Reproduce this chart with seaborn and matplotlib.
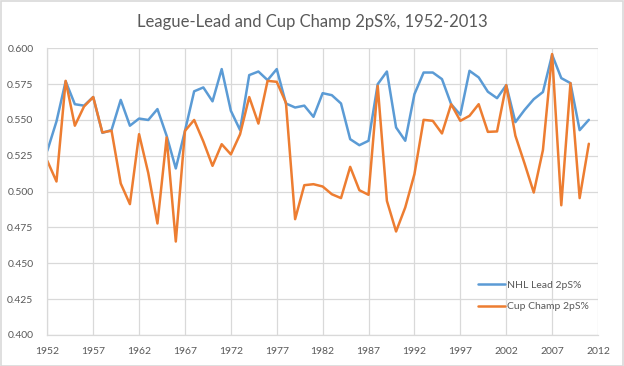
import matplotlib
matplotlib.use("Agg")
import matplotlib.pyplot as plt
import seaborn as sns
import pandas as pd
import numpy as np

years = list(range(1952, 2012))
nhl_lead = [0.5285, 0.549, 0.577, 0.561, 0.560, 0.566, 0.541, 0.543, 0.564, 0.546,
            0.551, 0.550, 0.5576, 0.539, 0.5162, 0.5424, 0.570, 0.5727, 0.563, 0.5855,
            0.5564, 0.543, 0.5813, 0.5838, 0.5778, 0.5855, 0.5615, 0.5587, 0.560, 0.5522,
            0.5687, 0.5673, 0.5615, 0.5366, 0.5324, 0.5355, 0.575, 0.5838, 0.5448, 0.5355,
            0.568, 0.5831, 0.5831, 0.5785, 0.561, 0.5536, 0.5843, 0.5797, 0.5697, 0.5652,
            0.5743, 0.5485, 0.557, 0.5645, 0.5695, 0.5955, 0.5792, 0.5757, 0.5429, 0.5501]
cup_champ = [0.5215, 0.5071, 0.5773, 0.546, 0.5594, 0.566, 0.5413, 0.5425, 0.5057, 0.4913,
             0.5401, 0.513, 0.4778, 0.5378, 0.4652, 0.5424, 0.550, 0.535, 0.518, 0.5331,
             0.526, 0.540, 0.566, 0.5475, 0.5773, 0.5766, 0.562, 0.4808, 0.5045, 0.5052,
             0.5036, 0.4982, 0.4955, 0.5173, 0.501, 0.4978, 0.5738, 0.4936, 0.4722, 0.489,
             0.5122, 0.5501, 0.5494, 0.5406, 0.561, 0.5494, 0.5529, 0.561, 0.5417, 0.542,
             0.5743, 0.539, 0.5196, 0.4994, 0.529, 0.596, 0.4905, 0.5757, 0.4955, 0.5334]
series_names = ["NHL Lead 2pS%", "Cup Champ 2pS%"]
x_ticks = list(range(1952, 2013, 5))
y_ticks = [0.400, 0.425, 0.450, 0.475, 0.500, 0.525, 0.550, 0.575, 0.600]
title = "League-Lead and Cup Champ 2pS%, 1952-2013"

df = pd.DataFrame({
    "Year": years * 2,
    "Value": nhl_lead + cup_champ,
    "Series": [series_names[0]] * len(years) + [series_names[1]] * len(years),
})

sns.set_theme(style="white")
plt.rcParams["font.family"] = ["Lato", "DejaVu Sans"]

txt = "#595959"
grid = "#D9D9D9"

fig = plt.figure(figsize=(6.24, 3.66), dpi=100)
fig.patch.set_facecolor("white")
ax = fig.add_axes([47.3 / 624, 1 - 335 / 366, (598 - 47.3) / 624, (335 - 48.3) / 366])

sns.lineplot(data=df, x="Year", y="Value", hue="Series",
             palette=["#5B9BD5", "#ED7D31"], linewidth=1.8, ax=ax, legend=True)

ax.set_xlim(1952, 2012)
ax.set_ylim(0.4, 0.6)
ax.set_xticks(x_ticks)
ax.set_yticks(y_ticks)
ax.set_yticklabels([f"{v:.3f}" for v in y_ticks])
ax.set_xlabel("")
ax.set_ylabel("")
ax.grid(True, color=grid, linewidth=0.9)
ax.set_axisbelow(True)
for s in ["top", "right"]:
    ax.spines[s].set_visible(False)
for s in ["left", "bottom"]:
    ax.spines[s].set_color(grid)
    ax.spines[s].set_linewidth(0.9)
ax.tick_params(axis="both", length=0, colors=txt, labelsize=7.5)
ax.tick_params(axis="y", pad=10)
ax.tick_params(axis="x", pad=9)

leg = ax.legend(loc="lower right", bbox_to_anchor=(1.0, 0.05), frameon=False,
                fontsize=7.5, handlelength=2.6, handletextpad=0.2, labelspacing=1.15)
for t in leg.get_texts():
    t.set_color(txt)

fig.text(0.5, 1 - 22 / 366, title, ha="center", va="center", fontsize=12, color=txt)

border = plt.Rectangle((0.001, 0.001), 0.998, 0.997, transform=fig.transFigure,
                       fill=False, edgecolor=grid, linewidth=1.2)
fig.patches.append(border)

fig.savefig("out.png", dpi=100)
